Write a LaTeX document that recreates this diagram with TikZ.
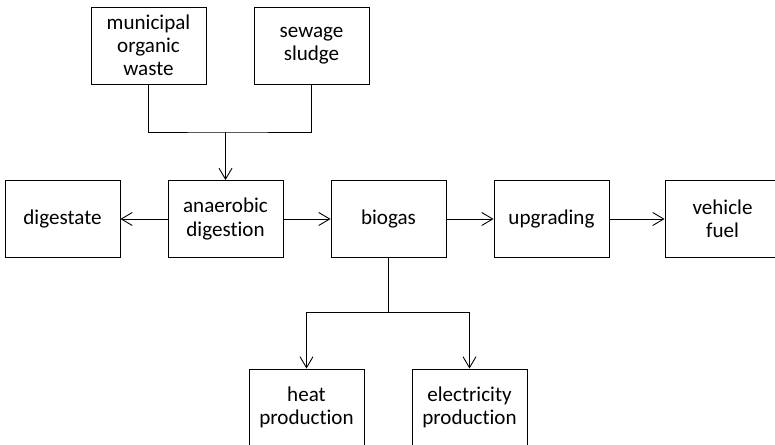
\documentclass[tikz,border=0pt]{standalone}
\usepackage{fontspec}
\setmainfont{Carlito}[Ligatures=NoCommon]
\usepackage{tikz}
\usetikzlibrary{arrows.meta}
\tikzset{
  bx/.style={rectangle, draw=black, line width=0.5pt, minimum width=2.3cm,
             minimum height=1.54cm, inner sep=1pt, align=center,
             font=\fontsize{12}{13.2}\selectfont},
  ln/.style={line width=0.5pt},
  arr/.style={ln, -{Straight Barb[length=2.2mm,width=2.6mm]}}
}
\begin{document}
\begin{tikzpicture}[x=0.02cm,y=-0.02cm]
  \useasboundingbox (0,0) rectangle (775,445);
  \node[bx] (mow) at (148.5,45.5) {municipal\\organic\\waste};
  \node[bx] (sew) at (311.5,45.5) {sewage\\sludge};
  \node[bx] (dg) at (62.5,219) {digestate};
  \node[bx] (ad) at (225.5,219) {anaerobic\\digestion};
  \node[bx] (bg) at (388.5,219) {biogas};
  \node[bx] (up) at (551.5,219) {upgrading};
  \node[bx] (vf) at (722.5,219) {vehicle\\fuel};
  \node[bx] (hp) at (306.5,407.5) {heat\\production};
  \node[bx] (ep) at (469.5,407.5) {electricity\\production};
  % inputs
  \coordinate (jt) at (ad.north |- 0,132);
  \draw[ln] (mow.south) |- (jt) -| (sew.south);
  \draw[arr] (jt) -- (ad.north);
  % main line
  \draw[arr] (ad.west) -- (dg.east);
  \draw[arr] (ad.east) -- (bg.west);
  \draw[arr] (bg.east) -- (up.west);
  \draw[arr] (up.east) -- (vf.west);
  % uses of biogas
  \coordinate (jb) at (bg.south |- 0,312);
  \draw[ln] (bg.south) -- (jb);
  \draw[arr] (jb) -| (hp.north);
  \draw[arr] (jb) -| (ep.north);
\end{tikzpicture}
\end{document}
